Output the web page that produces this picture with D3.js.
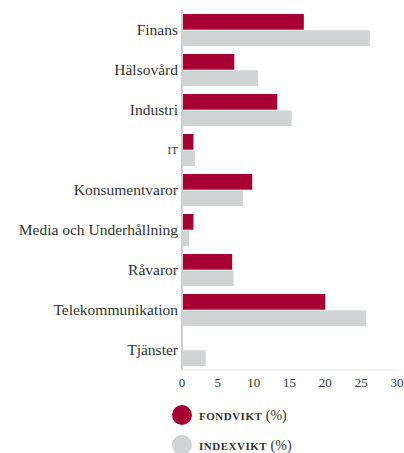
<!DOCTYPE html>
<html>
<head>
<meta charset="utf-8">
<script src="https://cdn.jsdelivr.net/npm/d3@7"></script>
<style>
  html, body { margin: 0; padding: 0; background: #fff; font-family: 'Liberation Serif', serif; }
  svg { display: block; }
</style>
</head>
<body>
<svg id="chart" width="404" height="453"></svg>
<script>
// Sector weights: fund vs. index, in percent
const categories = ["Finans", "Hälsovård", "Industri", "IT", "Konsumentvaror",
  "Media och Underhållning", "Råvaror", "Telekommunikation", "Tjänster"];
const fondvikt  = [17.0, 7.3, 13.3, 1.6, 9.8, 1.6, 7.0, 20.0, 0];
const indexvikt = [26.2, 10.6, 15.3, 1.8, 8.5, 1.0, 7.2, 25.7, 3.3];
const xTicks = [0, 5, 10, 15, 20, 25, 30];
const seriesNames = ["FONDVIKT", "INDEXVIKT"];
const colors = ["#a70034", "#d2d3d5"];
const serif = "'Liberation Serif', 'DejaVu Serif', serif";

const svg = d3.select("#chart");
const plotLeft = 182, plotRight = 397, plotTop = 10, plotBottom = 370;

const x = d3.scaleLinear().domain([0, 30]).range([plotLeft, plotRight]);
const y = d3.scaleBand().domain(categories).range([plotTop, plotBottom]).paddingInner(0.2).paddingOuter(0.1);
const sub = d3.scaleBand().domain([0, 1]).range([0, y.bandwidth()]).paddingInner(0.04);

const series = [fondvikt, indexvikt];

// Bars
const g = svg.append("g");
categories.forEach((c, i) => {
  series.forEach((vals, s) => {
    if (vals[i] <= 0) return;
    g.append("rect")
      .attr("x", x(0) + 1)
      .attr("y", y(c) + sub(s))
      .attr("width", x(vals[i]) - x(0) - 1)
      .attr("height", sub.bandwidth())
      .attr("fill", colors[s]);
  });
});

// Axis lines
svg.append("line").attr("x1", x(0)).attr("x2", x(0)).attr("y1", plotTop).attr("y2", plotBottom)
  .attr("stroke", "#cfcfcf").attr("stroke-width", 2);
svg.append("line").attr("x1", x(0)).attr("x2", x(30)).attr("y1", plotBottom).attr("y2", plotBottom)
  .attr("stroke", "#e6e6e6").attr("stroke-width", 1);

// Category labels
svg.append("g").selectAll("text").data(categories).join("text")
  .attr("x", plotLeft - 4)
  .attr("y", d => y(d) + y.bandwidth() / 2)
  .attr("dy", "0.35em")
  .attr("text-anchor", "end")
  .attr("fill", "#333")
  .style("font-family", serif)
  .style("font-size", d => d === "IT" ? "11px" : "15.5px")
  .text(d => d);

// X tick labels
svg.append("g").selectAll("text").data(xTicks).join("text")
  .attr("x", d => x(d))
  .attr("y", plotBottom + 17)
  .attr("text-anchor", "middle")
  .attr("fill", "#333")
  .style("font-family", serif)
  .style("font-size", "13px")
  .text(d => d);

// Legend
const leg = svg.append("g");
seriesNames.forEach((name, s) => {
  const cy = 415 + s * 30;
  leg.append("circle").attr("cx", 182).attr("cy", cy).attr("r", 10).attr("fill", colors[s]);
  const t = leg.append("text").attr("x", 199).attr("y", cy + 5).attr("fill", "#333")
    .style("font-family", serif);
  t.append("tspan").style("font-size", "11px").style("font-weight", "bold").attr("letter-spacing", 0.5).text(name);
  t.append("tspan").style("font-size", "14px").text(" (%)");
});
</script>
</body>
</html>
